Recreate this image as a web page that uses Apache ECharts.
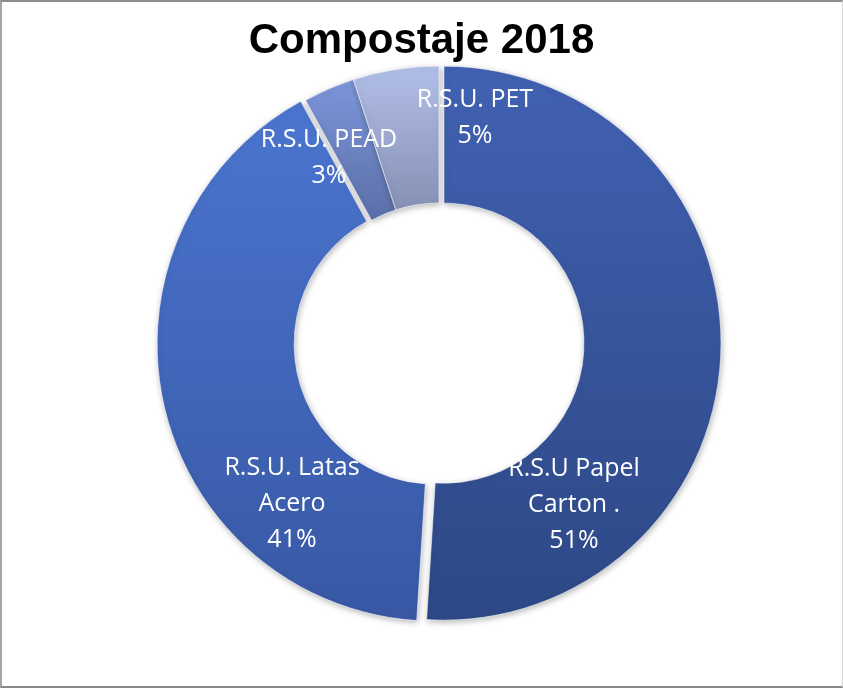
<!DOCTYPE html>
<html>
<head>
<meta charset="utf-8">
<script src="https://cdn.jsdelivr.net/npm/echarts@6/dist/echarts.min.js"></script>
<style>
  html, body { margin: 0; padding: 0; background: #ffffff; }
  #frame {
    position: absolute; left: 0; top: 0;
    width: 843px; height: 688px; box-sizing: border-box;
    border-top: 2px solid #8e8e8e;
    border-left: 2px solid #a6a6a6;
    border-bottom: 2px solid #888888;
    border-right: 1px solid #d4d4d4;
  }
  #chart { position: absolute; left: 0; top: 0; width: 843px; height: 688px; }
</style>
</head>
<body>
<div id="frame"></div>
<div id="chart"></div>
<script>
// Composting share by waste stream, 2018
const categories = ['R.S.U Papel\nCarton .', 'R.S.U. Latas\nAcero', 'R.S.U. PEAD', 'R.S.U. PET'];
const shares = [51, 41, 3, 5];
const exploded = [true, true, false, false];

// Per-slice vertical gradients (top colour, bottom colour)
const sliceTop = ['#4161b2', '#4b75d0', '#7d96db', '#b2bfe9'];
const sliceBottom = ['#2d4885', '#3858a4', '#5a6ea8', '#8690b4'];

// Label anchor points inside each slice
const labelX = [574, 292, 329, 475];
const labelY = [505, 504, 158, 118];

const chart = echarts.init(document.getElementById('chart'), null, { renderer: 'canvas' });

const data = categories.map((name, i) => ({
  name: name,
  value: shares[i],
  selected: exploded[i],
  itemStyle: {
    color: new echarts.graphic.LinearGradient(0, 0, 0, 1, [
      { offset: 0, color: sliceTop[i] },
      { offset: 1, color: sliceBottom[i] }
    ])
  }
}));

// Slice labels: category name plus its share
const labels = categories.map((name, i) => ({
  type: 'text',
  z: 100,
  silent: true,
  style: {
    text: name + '\n' + shares[i] + '%',
    x: labelX[i],
    y: labelY[i],
    textAlign: 'center',
    textVerticalAlign: 'middle',
    fill: '#ffffff',
    fontFamily: 'Open Sans',
    fontSize: 25,
    lineHeight: 36
  }
}));

chart.setOption({
  animation: false,
  backgroundColor: 'transparent',
  title: {
    text: 'Compostaje 2018',
    left: 'center',
    top: 15,
    textStyle: {
      fontFamily: 'Liberation Sans',
      fontWeight: 'bold',
      fontSize: 42,
      color: '#000000'
    }
  },
  graphic: labels,
  series: [{
    type: 'pie',
    center: [439, 343],
    radius: [140, 277],
    startAngle: 90,
    clockwise: true,
    selectedMode: 'multiple',
    selectedOffset: 5,
    avoidLabelOverlap: false,
    itemStyle: {
      borderColor: 'rgba(255,255,255,0.55)',
      borderWidth: 1,
      shadowBlur: 6,
      shadowOffsetX: 1,
      shadowOffsetY: 2,
      shadowColor: 'rgba(0,0,0,0.28)'
    },
    label: { show: false },
    labelLine: { show: false },
    emphasis: { disabled: true },
    data: data
  }]
});
</script>
</body>
</html>
